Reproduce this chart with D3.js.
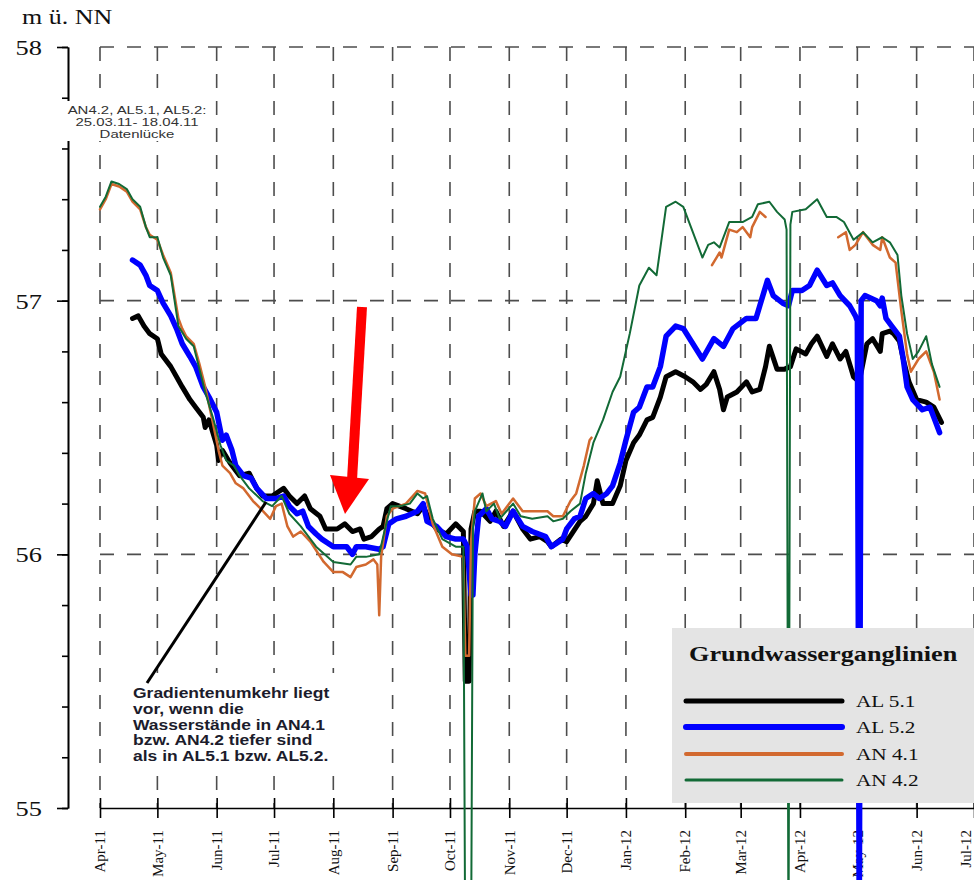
<!DOCTYPE html>
<html>
<head>
<meta charset="utf-8">
<script src="https://cdn.jsdelivr.net/npm/d3@7"></script>
<style>
  html, body { margin: 0; padding: 0; background: #fff; overflow: hidden; }
  svg { display: block; }
</style>
</head>
<body>
<svg id="chart" width="974" height="880"></svg>
<script>
// Groundwater levels (m ü. NN), April 2011 – June 2012.
// Each series: [days since START, level]; null marks a gap in the record.
const START = new Date(2011, 3, 1);
const END = new Date(2012, 6, 1);

const yMajorTicks = [55, 56, 57, 58];
const seriesNames = ["AL 5.1", "AL 5.2", "AN 4.1", "AN 4.2"];
const seriesColors = ["#000000", "#0000ff", "#d2692f", "#126a36"];

const AL51 = [
  [17,56.93],[20,56.94],[23,56.90],[26,56.87],[30,56.85],[32,56.79],[37,56.74],[40,56.70],[43,56.66],[47,56.61],
  [50,56.58],[54,56.54],[55,56.50],[57,56.53],[61,56.43],[62,56.37],[64,56.41],[68,56.36],[73,56.31],[78,56.32],
  [82,56.26],[85,56.23],[90,56.23],[96,56.26],[99,56.23],[103,56.20],[107,56.23],[110,56.18],[115,56.15],[118,56.10],
  [124,56.10],[128,56.12],[132,56.09],[136,56.10],[138,56.06],[142,56.07],[146,56.10],[148,56.11],[150,56.18],[153,56.20],
  [160,56.18],[166,56.16],[169,56.19],[172,56.14],[176,56.10],[181,56.08],[186,56.12],[190,56.09],[191,55.50],[193,55.50],
  [194,56.10],[196,56.17],[199,56.17],[204,56.13],[207,56.17],[211,56.11],[216,56.17],[221,56.10],[225,56.06],[230,56.07],
  [234,56.05],[236,56.03],[241,56.06],[244,56.05],[251,56.13],[254,56.15],[258,56.20],[260,56.29],[263,56.20],[268,56.20],
  [272,56.27],[275,56.37],[279,56.44],[282,56.47],[286,56.53],[289,56.54],[293,56.62],[296,56.70],[301,56.72],[306,56.70],
  [310,56.68],[314,56.65],[317,56.67],[321,56.72],[324,56.65],[326,56.57],[328,56.62],[333,56.64],[338,56.68],[341,56.64],
  [345,56.65],[348,56.74],[350,56.82],[354,56.73],[358,56.73],[361,56.74],[364,56.81],[369,56.79],[372,56.83],[375,56.86],
  [380,56.78],[383,56.83],[387,56.77],[390,56.80],[394,56.70],[397,56.68],[401,56.83],[404,56.85],[408,56.80],[409,56.87],
  [413,56.88],[415,56.87],[418,56.84],[420,56.77],[423,56.68],[427,56.61],[432,56.60],[436,56.58],[440,56.52]
];

const AL52 = [
  [17,57.16],[21,57.14],[24,57.10],[26,57.06],[30,57.04],[33,56.99],[37,56.94],[40,56.89],[43,56.83],[47,56.78],
  [50,56.74],[54,56.66],[57,56.62],[61,56.56],[64,56.45],[66,56.47],[69,56.41],[71,56.35],[75,56.31],[79,56.30],
  [82,56.26],[87,56.22],[92,56.22],[96,56.23],[99,56.19],[103,56.16],[106,56.17],[109,56.11],[113,56.08],[116,56.06],
  [122,56.03],[129,56.03],[132,56.00],[134,56.03],[139,56.03],[146,56.02],[148,56.03],[151,56.12],[155,56.14],[160,56.15],
  [166,56.17],[169,56.20],[171,56.13],[176,56.11],[181,56.07],[186,56.06],[190,56.06],[192,56.03],[194,55.84],[195,55.84],
  [196,56.00],[198,56.15],[202,56.18],[205,56.14],[209,56.13],[212,56.11],[216,56.17],[221,56.11],[226,56.09],[233,56.07],
  [236,56.03],[242,56.06],[244,56.10],[248,56.14],[251,56.15],[254,56.22],[258,56.24],[261,56.22],[265,56.24],[268,56.27],
  [272,56.36],[275,56.45],[279,56.56],[282,56.58],[286,56.66],[289,56.66],[293,56.74],[296,56.86],[301,56.90],[305,56.89],
  [310,56.83],[315,56.77],[321,56.85],[326,56.82],[331,56.89],[338,56.93],[343,56.93],[345,56.98],[349,57.08],[352,57.02],
  [357,56.99],[360,56.98],[362,57.04],[367,57.04],[371,57.06],[375,57.12],[380,57.06],[383,57.07],[387,57.02],[392,56.98],
  [395,56.94],[396,56.92],[397,54.50],[398,57.00],[400,57.02],[406,57.00],[408,56.98],[409,57.01],[411,56.93],[414,56.90],
  [418,56.86],[420,56.77],[422,56.66],[425,56.61],[430,56.57],[434,56.58],[436,56.54],[439,56.48]
];

const AN41 = [
  [0,57.36],[3,57.40],[6,57.46],[10,57.45],[14,57.43],[17,57.39],[21,57.36],[24,57.29],[26,57.26],[30,57.24],
  [33,57.18],[37,57.11],[39,57.02],[41,56.93],[43,56.89],[45,56.86],[49,56.83],[52,56.75],[55,56.66],[59,56.52],
  [62,56.41],[64,56.35],[68,56.32],[71,56.28],[75,56.26],[80,56.21],[84,56.18],[89,56.14],[92,56.19],[95,56.20],
  [98,56.11],[101,56.07],[105,56.09],[110,56.05],[117,55.97],[122,55.93],[127,55.93],[131,55.91],[134,55.95],[139,55.96],
  [143,55.98],[145,55.96],[146,55.76],[147,55.99],[150,56.15],[153,56.18],[160,56.20],[166,56.25],[170,56.24],[174,56.12],
  [179,56.03],[184,56.00],[190,55.99],[191,55.60],[193,55.60],[194,56.05],[196,56.22],[199,56.24],[202,56.19],[207,56.21],
  [210,56.16],[216,56.22],[221,56.17],[228,56.17],[234,56.17],[237,56.15],[242,56.15],[246,56.21],[249,56.24],[253,56.35],
  [256,56.45],[257,56.46],[258,null],
  [320,57.14],[324,57.19],[325,57.17],[329,57.28],[333,57.27],[336,57.29],[340,57.25],[341,57.29],[345,57.35],[348,57.33],
  [349,null],
  [386,57.25],[390,57.27],[392,57.20],[395,57.22],[399,57.27],[404,57.22],[408,57.20],[409,57.25],[413,57.17],[416,57.15],
  [419,56.96],[422,56.79],[424,56.72],[428,56.77],[432,56.80],[436,56.72],[439,56.61]
];

const AN42 = [
  [0,57.37],[3,57.41],[6,57.47],[10,57.46],[14,57.44],[17,57.40],[21,57.37],[24,57.29],[26,57.25],[30,57.25],
  [33,57.17],[37,57.10],[39,57.00],[41,56.90],[45,56.85],[49,56.82],[52,56.73],[55,56.64],[59,56.54],[63,56.43],
  [66,56.37],[70,56.35],[73,56.31],[78,56.26],[85,56.21],[90,56.19],[95,56.23],[99,56.16],[105,56.11],[113,56.03],
  [122,55.97],[131,55.96],[134,55.99],[139,55.99],[146,56.00],[149,56.10],[152,56.19],[157,56.19],[162,56.20],[166,56.24],
  [169,56.22],[171,56.23],[174,56.14],[179,56.06],[186,56.03],[190,56.03],[191,54.40],[194,54.40],[195,56.10],[196,56.17],
  [200,56.24],[202,56.17],[206,56.20],[209,56.14],[216,56.20],[220,56.15],[226,56.14],[234,56.15],[237,56.13],[242,56.14],
  [246,56.17],[251,56.20],[254,56.32],[258,56.44],[263,56.53],[268,56.64],[272,56.70],[277,56.87],[282,57.06],[287,57.13],
  [291,57.10],[296,57.37],[301,57.39],[305,57.37],[309,57.29],[315,57.17],[318,57.22],[321,57.23],[324,57.21],[329,57.31],
  [336,57.31],[341,57.33],[344,57.38],[350,57.39],[354,57.35],[358,57.32],[359,57.28],[360,54.40],[361,57.30],[362,57.35],
  [369,57.36],[375,57.40],[380,57.33],[385,57.33],[389,57.31],[394,57.24],[399,57.27],[404,57.23],[409,57.25],[413,57.23],
  [417,57.18],[419,57.02],[422,56.87],[425,56.77],[428,56.80],[432,56.86],[435,56.75],[439,56.66]
];

const seriesData = [AL51, AL52, AN41, AN42];

const noteGap = ["AN4.2, AL5.1, AL5.2:", "25.03.11- 18.04.11", "Datenlücke"];
const noteGradient = [
  "Gradientenumkehr liegt",
  "vor, wenn die",
  "Wasserstände in AN4.1",
  "bzw. AN4.2 tiefer sind",
  "als in AL5.1 bzw. AL5.2."
];

// ---------------------------------------------------------------
const SERIF = "'Liberation Serif','Times New Roman',serif";
const SANS = "'Liberation Sans',Arial,sans-serif";
const WIDE = 1.25; // lettering is set slightly wide

const svg = d3.select("#chart");
const x = d3.scaleTime().domain([START, END]).range([100, 974]);
const y = d3.scaleLinear().domain([55, 58]).range([808, 47]);
const toDate = d => d3.timeDay.offset(START, d);

function wideText(g, str, px, py, opts) {
  return g.append("text")
    .attr("transform", `translate(${px},${py}) scale(${opts.stretch || WIDE},1)`)
    .attr("text-anchor", opts.anchor || "start")
    .attr("font-family", opts.family || SERIF)
    .attr("font-size", opts.size)
    .attr("font-weight", opts.weight || "normal")
    .attr("fill", opts.fill || "#111")
    .text(str);
}

// y axis (offset to the left of the plotting area)
const yAxisG = svg.append("g").attr("transform", "translate(68,0)");
yAxisG.call(d3.axisLeft(y).tickValues(d3.range(55, 58.001, 0.2)).tickSize(6).tickSizeOuter(0).tickFormat(""));
yAxisG.append("g").call(d3.axisLeft(y).tickValues(yMajorTicks).tickSize(11).tickSizeOuter(0).tickFormat(""));
yAxisG.selectAll("path.domain").attr("stroke", "#000").attr("stroke-width", 1.6);
yAxisG.selectAll(".tick line").attr("stroke", "#000").attr("stroke-width", 1.6);

const yLab = svg.append("g");
yMajorTicks.forEach(v => wideText(yLab, String(v), 42, y(v) + 8, {size: 22, anchor: "end", stretch: 1.2, fill: "#111"}));
wideText(svg, "m ü. NN", 22, 24, {size: 20, stretch: 1.3, fill: "#111"});

// dashed grid
const months = d3.timeMonth.range(START, d3.timeDay.offset(END, 1));
const grid = svg.append("g").attr("stroke", "#4d4d4d").attr("stroke-width", 1.6)
  .attr("stroke-dasharray", "14,13").attr("fill", "none");
grid.selectAll("line.v").data(months).join("line").attr("class", "v")
  .attr("x1", d => x(d)).attr("x2", d => x(d)).attr("y1", y(58)).attr("y2", y(55));
grid.selectAll("line.h").data([56, 57, 58]).join("line").attr("class", "h")
  .attr("x1", x(START)).attr("x2", 974).attr("y1", d => y(d)).attr("y2", d => y(d));

// x axis with crossing ticks
const xAxisG = svg.append("g").attr("transform", `translate(0,${y(55)})`);
xAxisG.call(d3.axisBottom(x).tickValues(months).tickSize(10).tickSizeOuter(0).tickFormat(""));
xAxisG.select("path.domain").attr("stroke", "#000").attr("stroke-width", 1.6);
xAxisG.selectAll(".tick line").attr("y1", -10).attr("y2", 10).attr("stroke", "#000").attr("stroke-width", 1.6);

// month labels, read bottom-to-top; the last one sits on the right edge
const fmt = d3.timeFormat("%b-%y");
svg.append("g").selectAll("text").data(months).join("text")
  .attr("transform", d => `translate(${Math.min(x(d), 966)},830) rotate(-90)`)
  .attr("text-anchor", "end").attr("dy", "0.35em")
  .attr("font-family", SERIF).attr("font-size", 15).attr("fill", "#111")
  .text(d => fmt(d));

// white panels behind the two notes
svg.append("rect").attr("x", 63).attr("y", 101).attr("width", 150).attr("height", 40).attr("fill", "#fff");
svg.append("rect").attr("x", 128).attr("y", 673).attr("width", 256).attr("height", 97).attr("fill", "#fff");

// gap note
noteGap.forEach((s, i) => wideText(svg, s, 137, 114 + i * 12, {size: 11.5, family: SANS, anchor: "middle", stretch: 1.3, fill: "#333"}));

// series
const line = d3.line()
  .defined(d => d[1] != null)
  .x(d => x(toDate(d[0])))
  .y(d => y(d[1]));
const widths = [5, 5.5, 2.5, 2];
seriesData.forEach((data, i) => {
  svg.append("path").datum(data)
    .attr("fill", "none").attr("stroke", seriesColors[i]).attr("stroke-width", widths[i])
    .attr("stroke-linejoin", "round").attr("stroke-linecap", "round")
    .attr("d", line);
});

// gradient note with pointer
svg.append("line").attr("x1", 147).attr("y1", 683).attr("x2", 266).attr("y2", 502)
  .attr("stroke", "#000").attr("stroke-width", 3);
noteGradient.forEach((s, i) => wideText(svg, s, 133, 698 + i * 15.8, {size: 14, family: SANS, weight: "bold", fill: "#1c1c2c"}));

// red arrow
svg.append("line").attr("x1", 362).attr("y1", 307).attr("x2", 352).attr("y2", 480)
  .attr("stroke", "#ff0000").attr("stroke-width", 10);
svg.append("path").attr("d", "M330,475 L369,479 L345,514 Z").attr("fill", "#ff0000");

// legend
const lg = svg.append("g");
lg.append("rect").attr("x", 672).attr("y", 628).attr("width", 320).attr("height", 175).attr("fill", "#e4e4e4");
wideText(lg, "Grundwasserganglinien", 689, 661, {size: 21, weight: "bold", fill: "#111"});
const legendY = [701, 727, 754, 780];
const legendW = [5, 6, 4, 3];
seriesNames.forEach((name, i) => {
  lg.append("line").attr("x1", 686).attr("x2", 842).attr("y1", legendY[i]).attr("y2", legendY[i])
    .attr("stroke", seriesColors[i]).attr("stroke-width", legendW[i]).attr("stroke-linecap", "round");
  wideText(lg, name, 856, legendY[i] + 6, {size: 17, fill: "#111"});
});
</script>
</body>
</html>
